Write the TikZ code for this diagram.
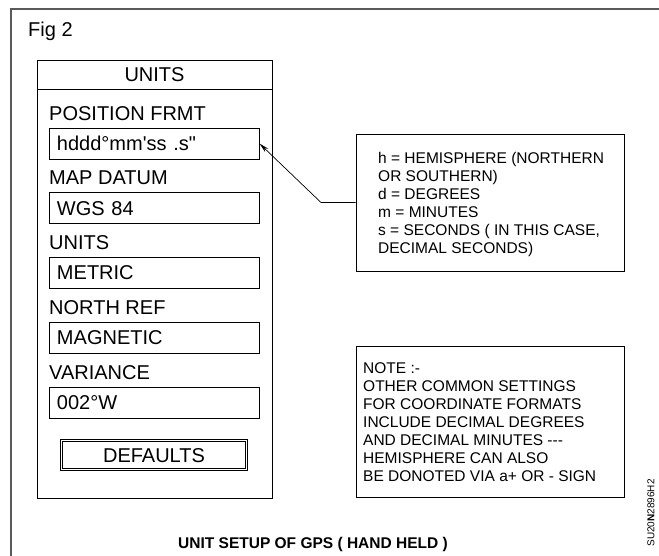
\documentclass[tikz,border=0pt]{standalone}
\usepackage{fontspec}
\setmainfont{Liberation Sans}
\usetikzlibrary{arrows.meta, positioning}
\definecolor{framegrey}{RGB}{90,90,90}

\begin{document}
\begin{tikzpicture}[
    x=1bp, y=-1bp,
    frame/.style={draw=framegrey, line width=1.2bp},
    panel/.style={draw, line width=0.9bp, minimum width=235bp, minimum height=438bp, inner sep=0pt},
    heading/.style={draw, line width=0.9bp, minimum width=235bp, minimum height=29bp, inner sep=0pt,
        font=\fontsize{20bp}{22bp}\selectfont, text height=14.3bp, text depth=0pt},
    lbl/.style={anchor=west, inner sep=0pt, font=\fontsize{20bp}{22bp}\selectfont,
        text height=14.3bp, text depth=0pt},
    field/.style={draw, line width=0.9bp, minimum width=210bp, minimum height=31bp, inner sep=0pt,
        text width=194bp, align=left, font=\fontsize{20bp}{22bp}\selectfont,
        text height=14.3bp, text depth=0pt},
    button/.style={draw, line width=0.8bp, double, double distance=1.6bp,
        minimum width=185bp, minimum height=29bp, inner sep=0pt,
        font=\fontsize{20bp}{22bp}\selectfont, text height=14.3bp, text depth=0pt},
    notebox/.style={draw, line width=0.9bp, minimum width=268bp, inner sep=0pt},
    notetext/.style={anchor=west, inner sep=0pt, align=left,
        font=\fontsize{15.5bp}{18bp}\selectfont},
    pointer/.style={line width=0.7bp, -{Stealth[length=10bp, width=4.5bp]}}
]
\useasboundingbox (0,0) rectangle (659,556);

% outer frame
\draw[frame] (11,556) -- (11,9) -- (659,9);
\node[anchor=base west, inner sep=0pt, font=\fontsize{20bp}{22bp}\selectfont] (fig) at (28,37) {Fig 2};

% units screen
\node[panel] (screen) at (154.5,279) {};
\node[heading, anchor=north] (head) at (screen.north) {UNITS};

\node[lbl] (poslbl) at (49,113.5) {POSITION FRMT};
\node[field] (posval) at (154,143.5) {hddd°mm\textquotesingle ss .s\textquotedbl};

\node[lbl] (datumlbl) at (49,177.5) {MAP DATUM};
\node[field] (datumval) at (154,208) {WGS 84};

\node[lbl] (unitlbl) at (49,242.5) {UNITS};
\node[field] (unitval) at (154,272.5) {METRIC};

\node[lbl] (northlbl) at (49,307.5) {NORTH REF};
\node[field] (northval) at (154,337.5) {MAGNETIC};

\node[lbl] (varlbl) at (49,372.5) {VARIANCE};
\node[field] (varval) at (154,402.5) {002°W};

\node[button] (defaults) at (154,455) {DEFAULTS};

% legend for the format
\node[notebox, minimum height=137bp] (legend) at (490,202.5) {};
\node[notetext] (legendtxt) at (378,204) {h = HEMISPHERE (NORTHERN\\
    OR SOUTHERN)\\
    d = DEGREES\\
    m = MINUTES\\
    s = SECONDS ( IN THIS CASE,\\
    DECIMAL SECONDS)};
\coordinate (bend) at (321,202.5);
\draw[pointer] (legend.west) -- (bend) -- (posval.east);

% note
\node[notebox, minimum height=151bp] (note) at (490,421.5) {};
\node[notetext] (notetxt) at (363,422) {NOTE :-\\
    OTHER COMMON SETTINGS\\
    FOR COORDINATE FORMATS\\
    INCLUDE DECIMAL DEGREES\\
    AND DECIMAL MINUTES -{}-{}-\\
    HEMISPHERE CAN ALSO\\
    BE DONOTED VIA a+ OR - SIGN};

\node[anchor=base, inner sep=0pt, font=\fontsize{15.5bp}{17bp}\selectfont\bfseries] (caption) at (313,548)
    {UNIT SETUP OF GPS ( HAND HELD )};
\node[rotate=90, inner sep=0pt, font=\fontsize{10bp}{12bp}\selectfont] (code) at (651,513) {SU20\textbf{N}2896H2};

\end{tikzpicture}
\end{document}
